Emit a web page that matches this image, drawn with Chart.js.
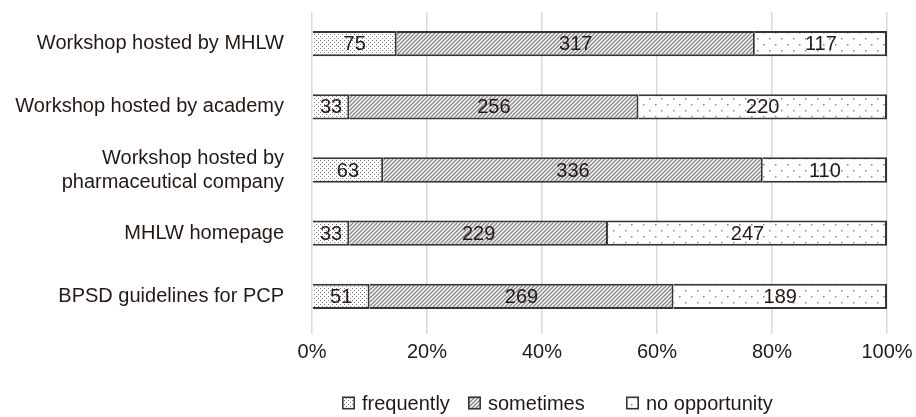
<!DOCTYPE html>
<html>
<head>
<meta charset="utf-8">
<script src="https://cdn.jsdelivr.net/npm/chart.js@4.4.1/dist/chart.umd.min.js"></script>
<style>
  html, body { margin: 0; padding: 0; background: #ffffff; }
  #wrap { width: 916px; height: 417px; }
</style>
</head>
<body>
<div id="wrap"><canvas id="c" width="916" height="417"></canvas></div>
<script>
// Sources of information on BPSD, number of respondents per answer
const categories = [
  'Workshop hosted by MHLW',
  'Workshop hosted by academy',
  ['Workshop hosted by', 'pharmaceutical company'],
  'MHLW homepage',
  'BPSD guidelines for PCP'
];
const frequently    = [75, 33, 63, 33, 51];
const sometimes     = [317, 256, 336, 229, 269];
const noOpportunity = [117, 220, 110, 247, 189];
const seriesNames   = ['frequently', 'sometimes', 'no opportunity'];
const tickValues    = [0, 20, 40, 60, 80, 100];

const INK = '#231815';
const EDGE = '#3b3333';
const FONT = '"Liberation Sans", Arial, sans-serif';

// Fill patterns for the three answers
function makeTile(w, h, paint) {
  const cv = document.createElement('canvas');
  cv.width = w; cv.height = h;
  const g = cv.getContext('2d');
  g.fillStyle = '#ffffff';
  g.fillRect(0, 0, w, h);
  paint(g, w, h);
  return document.createElement('canvas').getContext('2d').createPattern(cv, 'repeat');
}
const denseDots = makeTile(4, 4, (g) => {
  g.fillStyle = '#7e7e7e';
  g.fillRect(0, 0, 1, 1);
  g.fillRect(2, 2, 1, 1);
});
const hatch = makeTile(4, 4, (g, w, h) => {
  g.strokeStyle = '#8a8a8a';
  g.lineWidth = 1.5;
  g.beginPath();
  g.moveTo(-1, h + 1); g.lineTo(w + 1, -1);
  g.moveTo(-1, 1); g.lineTo(1, -1);
  g.moveTo(w - 1, h + 1); g.lineTo(w + 1, h - 1);
  g.stroke();
});
const sparseDots = makeTile(12, 12, (g) => {
  g.fillStyle = '#8a8a8a';
  g.fillRect(1, 2, 1.5, 1.5);
  g.fillRect(7, 8, 1.5, 1.5);
});

const rawSeries = [frequently, sometimes, noOpportunity];
const totals = categories.map((_, i) => rawSeries.reduce((s, arr) => s + arr[i], 0));
const fills = [denseDots, hatch, sparseDots];

const datasets = rawSeries.map((arr, k) => ({
  label: seriesNames[k],
  data: arr.map((v, i) => v / totals[i] * 100),
  counts: arr,
  backgroundColor: fills[k],
  borderColor: EDGE,
  borderWidth: 2,
  borderSkipped: 'start',
  categoryPercentage: 1,
  barPercentage: 0.4
}));

// Writes each segment's count in the middle of the segment
const segmentLabels = {
  id: 'segmentLabels',
  afterDatasetsDraw(chart) {
    const ctx = chart.ctx;
    ctx.save();
    ctx.font = '20px ' + FONT;
    ctx.fillStyle = INK;
    ctx.textAlign = 'center';
    ctx.textBaseline = 'middle';
    chart.data.datasets.forEach((ds, di) => {
      const meta = chart.getDatasetMeta(di);
      meta.data.forEach((bar, i) => {
        const p = bar.getProps(['x', 'base', 'y'], true);
        ctx.fillText(String(ds.counts[i]), (p.x + p.base) / 2, p.y + 1);
      });
    });
    ctx.restore();
  }
};

// Legend row under the axis: pattern swatch followed by the answer name
const legendStarts = [342, 468, 626];
const bottomLegend = {
  id: 'bottomLegend',
  afterDraw(chart) {
    const ctx = chart.ctx;
    const y = 403;
    ctx.save();
    ctx.font = '20px ' + FONT;
    ctx.textBaseline = 'middle';
    ctx.textAlign = 'left';
    chart.data.datasets.forEach((ds, k) => {
      const x = legendStarts[k];
      ctx.fillStyle = ds.backgroundColor;
      ctx.fillRect(x, y - 6.5, 13, 13);
      ctx.strokeStyle = EDGE;
      ctx.lineWidth = 1.6;
      ctx.strokeRect(x + 0.8, y - 5.7, 11.4, 11.4);
      ctx.fillStyle = INK;
      ctx.fillText(ds.label, x + 20, y + 1);
    });
    ctx.restore();
  }
};

new Chart(document.getElementById('c'), {
  type: 'bar',
  data: { labels: categories, datasets },
  options: {
    indexAxis: 'y',
    responsive: false,
    animation: false,
    devicePixelRatio: 1,
    layout: { padding: { top: 12, right: 29, bottom: 45, left: 0 } },
    scales: {
      x: {
        stacked: true,
        min: 0,
        max: 100,
        afterBuildTicks(scale) { scale.ticks = tickValues.map(v => ({ value: v })); },
        afterFit(scale) {
          scale.height = 44;
          scale.paddingLeft = 0;
          scale.paddingRight = 0;
        },
        ticks: {
          callback: (v) => v + '%',
          color: INK,
          font: { family: FONT, size: 20 },
          padding: 6,
          maxRotation: 0
        },
        grid: { color: '#d9d9d9', lineWidth: 1.5, tickLength: 6, drawTicks: true },
        border: { display: false }
      },
      y: {
        stacked: true,
        afterFit(scale) {
          scale.width = 312;
          scale.paddingTop = 0;
          scale.paddingBottom = 0;
        },
        ticks: {
          color: INK,
          font: { family: FONT, size: 20, lineHeight: 1.2 },
          padding: 28
        },
        grid: { display: false, drawTicks: false },
        border: { display: false }
      }
    },
    plugins: {
      legend: { display: false },
      tooltip: { enabled: false }
    }
  },
  plugins: [segmentLabels, bottomLegend]
});
</script>
</body>
</html>
